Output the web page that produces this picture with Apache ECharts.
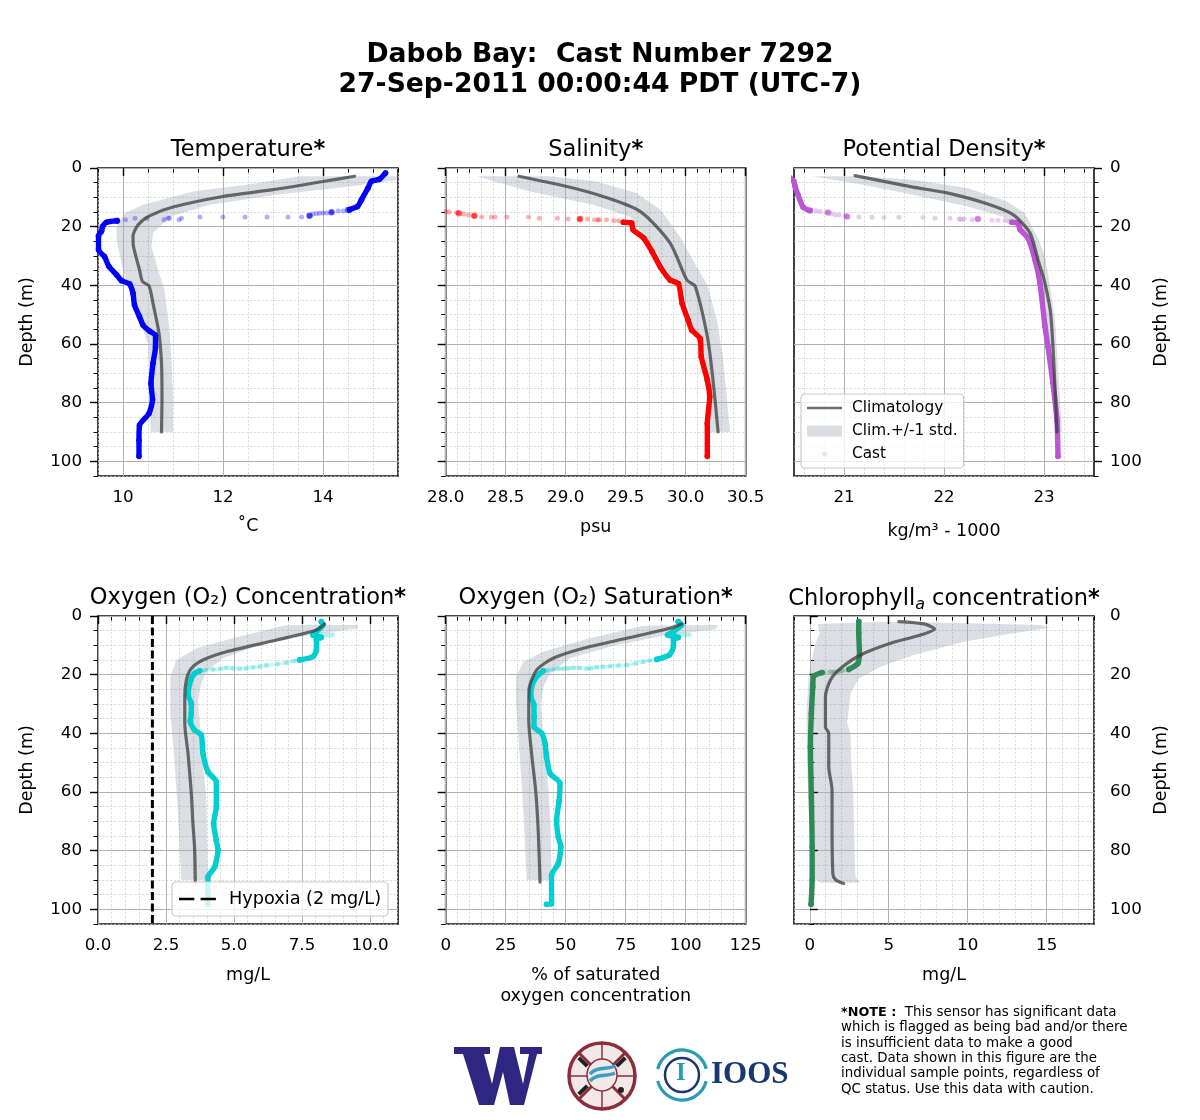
<!DOCTYPE html>
<html><head><meta charset="utf-8">
<style>html,body{margin:0;padding:0;background:#fff}#c{width:1200px;height:1120px}</style>
<script src="https://cdn.jsdelivr.net/npm/echarts@6/dist/echarts.min.js"></script>
</head><body><div id="c"></div>
<script>
// ---- depth axis
const depthMajor=[0,20,40,60,80,100];
const depthMinor=[5,10,15,25,30,35,45,50,55,65,70,75,85,90,95,105];
// ---- x ticks
const tempMajor=[10,12,14], tempMinor=[9.5,10.5,11,11.5,12.5,13,13.5,14.5,15,15.5];
const salMajor=[28,28.5,29,29.5,30,30.5], salMinor=[28.1,28.2,28.3,28.4,28.6,28.7,28.8,28.9,29.1,29.2,29.3,29.4,29.6,29.7,29.8,29.9,30.1,30.2,30.3,30.4];
const densMajor=[21,22,23], densMinor=[20.6,20.8,21.2,21.4,21.6,21.8,22.2,22.4,22.6,22.8,23.2,23.4];
const concMajor=[0,2.5,5,7.5,10], concMinor=[.5,1,1.5,2,3,3.5,4,4.5,5.5,6,6.5,7,8,8.5,9,9.5,10.5,11];
const satMajor=[0,25,50,75,100,125], satMinor=[5,10,15,20,30,35,40,45,55,60,65,70,80,85,90,95,105,110,115,120];
const chlMajor=[0,5,10,15], chlMinor=[-1,1,2,3,4,6,7,8,9,11,12,13,14,16,17,18];
// ---- temperature [value, depth]
const tempClim=[[14.63,2.8],[14,4.6],[13,7.4],[12,9.7],[11,13.3],[10.53,16.3],[10.3,19.4],[10.2,23.3],[10.21,26.8],[10.33,34.7],[10.39,38.7],[10.52,40.2],[10.6,46.1],[10.72,56.4],[10.77,66.6],[10.78,78],[10.77,90]];
const tempBandLow=[[13.53,2.8],[12.47,5.7],[11.4,8],[10.4,12.5],[10.03,15.4],[9.87,20],[9.87,24.5],[9.97,32.5],[10.1,40.4],[10.3,50.7],[10.5,59.8],[10.55,78],[10.55,90]];
const tempBandHigh=[[15.47,2.8],[15.47,4.2],[14.53,6.3],[13.07,9.1],[11.73,12.5],[10.93,16.7],[10.6,22.2],[10.57,26.8],[10.7,34.7],[10.83,41.6],[10.93,55],[10.97,66.6],[11,78],[11,90]];
const tempCastTop=[[15.25,1.7],[15.13,3.8],[14.97,4.5],[14.9,6.8],[14.77,10.8],[14.69,13.1],[14.53,14.2]];
const tempCastFall=[[14.53,14.4],[14.4,14.7],[14.3,14.7],[14.17,15.1],[14.17,15.1],[14.07,15.3],[14,15.3],[13.93,15.4],[13.87,15.5],[13.8,15.7],[13.73,16.3],[13.73,16.3],[13.57,16.7],[13.3,16.7],[12.88,16.7],[12.44,16.7],[12,16.7],[11.54,16.7],[11.17,17.1],[11.12,17.65],[10.93,17.1],[10.9,17.1],[10.82,17.6],[10.48,17.2],[10.24,17.1],[10.05,17.6],[9.88,18]];
const tempCastClumps=[[14.5,14.3],[14.17,15.1],[13.73,16.3],[9.88,18]];
const tempCastDeep=[[9.88,18],[9.67,18.5],[9.59,20],[9.57,21.6],[9.51,23.1],[9.51,27.9],[9.63,30.2],[9.72,33.6],[9.87,36.4],[9.97,38.4],[10.13,39.5],[10.2,42.7],[10.23,46.7],[10.33,50.7],[10.4,53.5],[10.53,55.6],[10.65,57],[10.65,61],[10.6,66.6],[10.56,73.5],[10.59,79],[10.52,83.7],[10.33,87.7],[10.32,92.8],[10.32,98.3]];
// ---- salinity
const salClim=[[28.61,2.8],[29.01,6.3],[29.31,9.7],[29.62,14.8],[29.87,25.6],[30.01,38.2],[30.08,40.4],[30.19,59.8],[30.27,90]];
const salBandLow=[[28.26,2.8],[28.7,8],[29.23,12.5],[29.54,16.7],[29.76,29],[29.87,37],[29.97,40.4],[30.09,57.5],[30.18,78],[30.2,90]];
const salBandHigh=[[28.87,2.8],[29.26,4.6],[29.59,8.5],[29.79,14.2],[29.95,23.3],[30.09,33.6],[30.18,39.9],[30.26,51.8],[30.31,64.4],[30.37,90]];
const salCastFall=[[28,14.8],[28.03,15],[28.09,15.2],[28.11,15.4],[28.15,15.7],[28.19,16],[28.23,16.3],[28.24,16.3],[28.3,16.7],[28.38,16.7],[28.41,16.7],[28.51,16.7],[28.69,16.7],[28.78,17.1],[28.93,17.1],[29.02,17.4],[29.12,17.4],[29.11,17.4],[29.18,17.4],[29.24,17.6],[29.27,17.6],[29.28,17.6],[29.34,17.6],[29.4,17.9],[29.44,18]];
const salCastClumps=[[28.11,15.4],[28.24,16.3],[29.12,17.4]];
const salCastDeep=[[29.48,18.5],[29.55,18.8],[29.56,21],[29.65,23.9],[29.72,28.5],[29.79,33.8],[29.87,38.2],[29.94,39.5],[29.97,46.1],[30.02,51.8],[30.05,55.2],[30.12,58.1],[30.13,64.4],[30.18,72.3],[30.2,78],[30.18,87.1],[30.18,98.3]];
// ---- potential density
const densClim=[[21.11,2.6],[21.69,6.5],[22.03,8.5],[22.43,12.2],[22.69,15.9],[22.86,22.2],[22.94,31.3],[23.01,39.3],[23.07,50.7],[23.13,90]];
const densBandLow=[[20.68,2.8],[21.19,5.7],[21.69,9.1],[22.23,13],[22.6,16.7],[22.79,21.6],[22.91,32.5],[22.98,40.4],[23.03,55],[23.11,90]];
const densBandHigh=[[21.16,2.8],[21.69,4],[22.23,6.8],[22.63,11.4],[22.81,15.4],[22.93,23.3],[23.01,30],[23.06,40.4],[23.11,51.8],[23.18,90]];
const densCastTop=[[20.45,3],[20.5,4.6],[20.51,6.3],[20.54,9.1],[20.59,13.3],[20.66,14.5]];
const densCastFall=[[20.66,14.5],[20.72,14.6],[20.76,14.8],[20.83,15.1],[20.84,15.2],[20.87,15.5],[20.91,15.9],[20.95,16],[21.01,16.3],[21.03,16.5],[21.03,16.6],[21.15,16.7],[21.28,16.8],[21.4,16.8],[21.55,16.8],[21.79,16.8],[21.91,17.1],[22.06,17.1],[22.15,17.4],[22.17,17.5],[22.2,17.4],[22.28,17.65],[22.33,17.3],[22.34,17.5],[22.48,17.8],[22.54,17.8],[22.61,17.9],[22.65,18.2],[22.68,18.5]];
const densCastClumps=[[20.66,14.5],[20.84,15.2],[21.03,16.5],[22.34,17.4]];
const densCastDeep=[[22.68,18.5],[22.74,18.8],[22.76,21],[22.84,23.9],[22.91,31.3],[22.96,39.3],[23.01,54],[23.04,60.9],[23.09,73.5],[23.13,86],[23.14,98.3]];
// ---- oxygen concentration
const hypoxiaLine=[[2,0],[2,105]];
const concClim=[[8.33,2.7],[8.03,4.8],[6.56,8.2],[4.72,12.2],[3.86,15],[3.43,17.9],[3.25,21.8],[3.19,27.5],[3.19,36.6],[3.31,46.9],[3.43,60.5],[3.49,70.8],[3.55,78.7],[3.58,90.7]];
const concBandLow=[[6.92,3.1],[5.2,7],[3.62,11],[2.88,15],[2.66,20.7],[2.66,33.2],[2.82,50.3],[2.94,67.3],[3.06,90]];
const concBandHigh=[[9.56,3.1],[9.56,4.2],[7.78,6.5],[5.94,9.9],[4.6,14.4],[3.98,19],[3.8,23],[3.68,28.7],[3.8,44.6],[3.98,61.7],[4.04,90]];
const concCastTop=[[8.21,1.9],[8.27,3.1],[8.03,5.3],[7.9,6.5],[8.21,7.3],[8.03,8.2],[8.03,11.6],[7.9,13.9],[7.41,15]];
const concCastSpur=[[7.9,6.5],[8.15,6.3],[8.4,6.5],[8.7,6.5]];
const concCastFall=[[7.41,15],[7.2,15.3],[6.92,15.9],[6.6,16.4],[6.19,16.8],[5.95,17.2],[5.7,17.5],[5.45,17.8],[5.21,17.9],[4.95,17.8],[4.72,17.6],[4.5,18],[4.23,18.2],[3.95,18.4],[3.74,18.7]];
const concCastDeep=[[3.74,18.7],[3.55,19.6],[3.41,21.8],[3.31,27],[3.43,29.8],[3.43,33.2],[3.39,36],[3.55,38.9],[3.8,40.6],[3.86,46.9],[4.04,53.1],[4.35,56.5],[4.35,65],[4.25,70.8],[4.35,76.5],[4.41,79.9],[4.29,85.6],[4.04,89],[4.04,95.8],[4.04,98.3]];
// ---- oxygen saturation
const satClim=[[98.3,2.7],[93.4,4.2],[75.4,7.6],[57.4,11],[44.8,14.4],[37.9,18.4],[34.7,25.3],[34.6,35.5],[35.8,46.9],[37.6,60.5],[38.6,74.2],[39.3,90.7]];
const satBandLow=[[82.3,3.3],[60,7.6],[40.7,12.2],[32.4,15.6],[29.3,20.7],[29.3,29.8],[30.7,45.7],[32.4,67.3],[33.7,90]];
const satBandHigh=[[113.6,3.1],[112.2,4.6],[92.1,6.5],[71.2,9.9],[51.8,14.4],[43.5,19.6],[40.7,24.1],[39.6,29.8],[40.7,42.3],[42.8,58.2],[43.7,71.9],[44.1,90]];
const satCastTop=[[96.9,1.9],[98.3,3.1],[94.9,5.3],[92.4,6.5],[96.9,7.3],[94.9,8.2],[94.9,10.5],[93.2,13.3],[87.9,14.8]];
const satCastSpur=[[92.4,6.5],[96.1,6.5],[99.6,6.5],[102.4,6.5]];
const satCastFall=[[87.9,14.8],[85,15.2],[82.3,15.6],[79,16.2],[75.4,16.7],[72,16.9],[68.5,17.1],[65.5,17.3],[62.9,17.5],[60.5,17.8],[58.8,17.9],[55.8,17.6],[53.2,17.6],[51,17.8],[49,17.9],[47,18],[44.9,18.2],[42.5,18.5],[40.7,18.7]];
const satCastDeep=[[40.7,18.7],[37.9,20.7],[35.8,24.1],[35.5,27.5],[36.8,30.4],[36.8,34.4],[36.8,37.8],[40,40],[41.4,43.5],[42,48],[43.5,53.7],[47.6,57],[47.3,62.8],[46.2,69.6],[46.9,75.3],[48,78.7],[46.9,84.4],[44.1,88.4],[44.1,98.1],[42,98.3]];
// ---- chlorophyll
const chlClim=[[5.64,1.9],[7.23,2.7],[7.9,4.4],[7.01,6.5],[5.11,9.3],[3.21,13.3],[1.94,17.9],[1.31,21.8],[.99,27.5],[.99,37.8],[1.2,40],[1.2,51.4],[1.41,59.4],[1.41,69.6],[1.46,87.8],[1.63,89.9],[2.15,91.2]];
const chlBandLow=[[.51,2.7],[.63,5.9],[.36,9.3],[-.06,19.6],[-.21,33.2],[-.17,50.3],[-.06,67.3],[.25,89.5],[.68,90.9]];
const chlBandHigh=[[4.48,2],[8.7,2.3],[14.6,3.1],[15.2,4],[12.9,5.9],[9.76,8.8],[6.59,13.3],[4.48,17.3],[3.1,21.3],[2.58,26.4],[2.37,36.6],[2.58,40],[2.62,50.3],[2.75,59.4],[2.83,78.7],[2.89,89],[3.17,90.9]];
const chlCastTop=[[3.1,1.9],[3.1,5.9],[3.15,13.3],[3.04,16.2],[2.47,18.2]];
const chlCastFall=[[2.47,18.2],[2.05,18.7],[1.8,18.9],[1.55,19],[1.31,19],[.78,19.3]];
const chlCastDeep=[[.78,19.3],[.25,20.5],[.19,24.1],[.1,33.2],[.04,44.6],[.1,61.7],[.15,78.7],[.15,90],[.08,98.3]];
// ---- text
const mainTitle='Dabob Bay:  Cast Number 7292\n27-Sep-2011 00:00:44 PDT (UTC-7)';
const noteLines=['{b|*NOTE :}  This sensor has significant data','which is flagged as being bad and/or there','is insufficient data to make a good','cast. Data shown in this figure are the','individual sample points, regardless of','QC status. Use this data with caution.'];

const F='"DejaVu Sans"';
const TICK=16.7, NAME=17.5, TITLE=22.5;
const BAND='rgba(112,128,144,0.25)', CLIM='rgba(60,60,60,0.75)';
const titleRich={s:{fontFamily:F,fontSize:TITLE,fontWeight:'normal',color:'#000'},b:{fontFamily:F,fontSize:TITLE,fontWeight:'bold',color:'#000'},sub:{fontFamily:F,fontSize:16,fontWeight:'normal',fontStyle:'italic',color:'#000',verticalAlign:'bottom',lineHeight:26}};

const panels=[
 {title:'{s|Temperature}{b|*}',name:'˚C',gap:40,min:9.5,max:15.5,major:tempMajor,minor:tempMinor,fmt:v=>String(v),color:'#0000ff',clim:tempClim,lo:tempBandLow,hi:tempBandHigh,solid:[tempCastTop,tempCastDeep],fall:tempCastFall,clumps:tempCastClumps,x:98,y:168,side:'left',ylab:true},
 {title:'{s|Salinity}{b|*}',name:'psu',gap:41,min:28,max:30.5,major:salMajor,minor:salMinor,fmt:v=>v.toFixed(1),color:'#ff0000',clim:salClim,lo:salBandLow,hi:salBandHigh,solid:[salCastDeep],fall:salCastFall,clumps:salCastClumps,x:445.7,y:168,side:'left',ylab:false},
 {title:'{s|Potential Density}{b|*}',name:'kg/m³ - 1000',gap:45,min:20.5,max:23.5,major:densMajor,minor:densMinor,fmt:v=>String(v),color:'#ba55d3',clim:densClim,lo:densBandLow,hi:densBandHigh,solid:[densCastTop,densCastDeep],fall:densCastFall,clumps:densCastClumps,x:794,y:168,side:'right',ylab:true},
 {title:'{s|Oxygen (O₂) Concentration}{b|*}',name:'mg/L',gap:41,min:0,max:11.03,major:concMajor,minor:concMinor,fmt:v=>v.toFixed(1),color:'#00ced1',clim:concClim,lo:concBandLow,hi:concBandHigh,solid:[concCastTop,concCastDeep],fall:concCastFall,spur:concCastSpur,fallLine:true,hyp:true,x:98,y:616,side:'left',ylab:true},
 {title:'{s|Oxygen (O₂) Saturation}{b|*}',name:'% of saturated\noxygen concentration',gap:41,min:0,max:125,major:satMajor,minor:satMinor,fmt:v=>String(v),color:'#00ced1',clim:satClim,lo:satBandLow,hi:satBandHigh,solid:[satCastTop,satCastDeep],fall:satCastFall,spur:satCastSpur,fallLine:true,x:445.7,y:616,side:'left',ylab:false},
 {title:'{s|Chlorophyll}{sub|a}{s| concentration}{b|*}',name:'mg/L',gap:41,min:-1,max:18,major:chlMajor,minor:chlMinor,fmt:v=>String(v),color:'#2e8b57',clim:chlClim,lo:chlBandLow,hi:chlBandHigh,solid:[chlCastTop,chlCastDeep],fall:chlCastFall,fallLine:true,x:794,y:616,side:'right',ylab:true}
];
const W=300,H=308;
const grid=[],xAxis=[],yAxis=[],series=[];
const title=[{text:mainTitle,left:600,top:40,padding:0,textAlign:'center',textStyle:{fontFamily:F,fontSize:26.6,fontWeight:'bold',color:'#000',lineHeight:30}}];
function bandRender(lo,hi){
  return (params,api)=>{
    if(params.dataIndex!==0) return null;
    const pts=lo.concat(hi.slice().reverse()).map(p=>api.coord(p));
    return {type:'polygon',shape:{points:pts},style:{fill:BAND}};
  };
}
panels.forEach((p,i)=>{
  grid.push({left:p.x,top:p.y,width:W,height:H,show:true,borderColor:'#111',borderWidth:1.6,backgroundColor:'transparent',containLabel:false});
  const ma=i*2;
  const common={type:'value',gridIndex:i,min:p.min,max:p.max,position:'bottom',axisLine:{show:false}};
  xAxis.push({...common,z:3,name:p.name,nameLocation:'middle',nameGap:p.gap,nameTextStyle:{fontFamily:F,fontSize:NAME,color:'#000',lineHeight:21},
    axisTick:{show:true,length:8,lineStyle:{color:'#000',width:1.4},customValues:p.major},
    axisLabel:{show:true,margin:13,fontFamily:F,fontSize:TICK,color:'#000',customValues:p.major,formatter:p.fmt,showMinLabel:true,showMaxLabel:true,hideOverlap:false},
    splitLine:{show:true,lineStyle:{color:'#b0b0b0',width:1,type:'solid'}}});
  xAxis.push({...common,z:2,
    axisTick:{show:true,length:4.5,lineStyle:{color:'#000',width:1},customValues:p.minor},
    axisLabel:{show:false},
    splitLine:{show:true,lineStyle:{color:'#cfcfcf',width:.7,type:[2.5,1.5]}}});
  const yc={type:'value',gridIndex:i,min:0,max:105,inverse:true,position:p.side,axisLine:{show:false}};
  yAxis.push({...yc,z:3,name:p.ylab?'Depth (m)':'',nameLocation:'middle',nameGap:p.side==='left'?62:58,nameRotate:90,nameTextStyle:{fontFamily:F,fontSize:NAME,color:'#000'},
    axisTick:{show:true,length:8,lineStyle:{color:'#000',width:1.4},customValues:depthMajor},
    axisLabel:{show:p.ylab,margin:16,padding:[3,0,0,0],fontFamily:F,fontSize:TICK,color:'#000',customValues:depthMajor,showMinLabel:true,hideOverlap:false},
    splitLine:{show:true,lineStyle:{color:'#b0b0b0',width:1,type:'solid'}}});
  yAxis.push({...yc,z:2,
    axisTick:{show:true,length:4.5,lineStyle:{color:'#000',width:1},customValues:depthMinor},
    axisLabel:{show:false},
    splitLine:{show:true,lineStyle:{color:'#cfcfcf',width:.7,type:[2.5,1.5]}}});
  title.push({text:p.title,left:p.x+150,top:p.y-29.5,padding:0,textAlign:'center',textStyle:{rich:titleRich,fontFamily:F,fontSize:TITLE}});
  const axes={xAxisIndex:ma,yAxisIndex:ma};
  series.push({type:'custom',name:'Clim.+/-1 std.',...axes,data:p.lo.concat(p.hi),renderItem:bandRender(p.lo,p.hi),itemStyle:{color:BAND},silent:true,z:2,animation:false});
  if(p.hyp) series.push({type:'line',name:'Hypoxia (2 mg/L)',...axes,data:hypoxiaLine,showSymbol:false,lineStyle:{color:'#000',width:3,type:[8,3.5]},z:3,silent:true,animation:false});
  series.push({type:'scatter',name:'Cast',...axes,data:p.fall,symbolSize:5,itemStyle:{color:p.color,opacity:.3},z:4,silent:true,animation:false});
  if(p.clumps) series.push({type:'scatter',name:'Cast',...axes,data:p.clumps,symbolSize:6.5,itemStyle:{color:p.color,opacity:.55},z:4,silent:true,animation:false});
  if(p.fallLine) series.push({type:'line',name:'Cast',...axes,data:p.fall,showSymbol:false,lineStyle:{color:p.color,width:3.5,opacity:.18},z:4,silent:true,animation:false});
  if(p.spur) series.push({type:'line',name:'Cast',...axes,data:p.spur,showSymbol:false,lineStyle:{color:p.color,width:4.5,opacity:.3},z:4,silent:true,animation:false});
  p.solid.forEach(seg=>{
    series.push({type:'line',name:'Cast',...axes,data:seg,smooth:.2,showSymbol:true,symbol:'circle',symbolSize:5.6,itemStyle:{color:p.color},lineStyle:{color:p.color,width:5.4,cap:'round',join:'round'},z:5,silent:true,animation:false});
  });
  series.push({type:'line',name:'Climatology',...axes,data:p.clim,showSymbol:false,smooth:.25,lineStyle:{color:CLIM,width:3.2,cap:'round'},itemStyle:{color:CLIM},z:6,silent:true,animation:false});
});
const legendBox={z:10,selectedMode:false,symbolKeepAspect:false,orient:'vertical',backgroundColor:'rgba(255,255,255,0.8)',borderColor:'#ccc',borderWidth:1.2,borderRadius:4,itemGap:8,itemWidth:40,itemHeight:15,textStyle:{fontFamily:F,color:'#000'}};
const BB='M0 0L100 0L0 0ZM0 100L100 100L0 100Z';
const lineIcon='path://'+BB+'M0 41H87.5V59H0Z';
const bandIcon='path://'+BB+'M0 14H87.5V86H0Z';
const dotIcon='path://'+BB+'M37.5 50A6.25 16.7 0 1 1 50 50A6.25 16.7 0 1 1 37.5 50Z';
const dashIcon='path://'+BB+'M0 41H34V59H0ZM48 41H82V59H48Z';
const legend=[
 {...legendBox,left:801,top:394,padding:[6.5,6,6.5,6],textStyle:{...legendBox.textStyle,fontSize:15.3},
  data:[{name:'Climatology',icon:lineIcon,itemStyle:{color:'#6e6e6e'}},{name:'Clim.+/-1 std.',icon:bandIcon,itemStyle:{color:'#dadee3'}},{name:'Cast',icon:dotIcon,itemStyle:{color:'rgba(186,85,211,.6)'}}]},
 {...legendBox,left:172,top:882,padding:[8,7,8,7],itemWidth:45,textStyle:{...legendBox.textStyle,fontSize:17.7},
  data:[{name:'Hypoxia (2 mg/L)',icon:dashIcon,itemStyle:{color:'#000'}}]}
];
// logos and note
const navy='#2e2680', maroon='#8c2d3c', teal='#2a9cb0', ioos='#17396f';
const wOutline=[[454,1047],[490,1047],[490,1054],[484,1054],[492,1084],[500,1047],[514,1047],[523,1084],[529,1054],[520,1054],[520,1047],[542,1047],[542,1054],[537,1054],[524,1105],[510,1105],[503,1072],[494,1105],[479,1105],[463,1054],[454,1054]];
const graphic=[
 {type:'text',left:841,top:1005,style:{text:noteLines.join('\n'),fontFamily:F,fontSize:13.4,lineHeight:15.3,fill:'#000',rich:{b:{fontFamily:F,fontSize:12.8,fontWeight:'bold',fill:'#000'}}}},
 {type:'polygon',shape:{points:wOutline},style:{fill:navy}},
 {type:'ellipse',shape:{cx:602,cy:1076,rx:33,ry:33},style:{fill:'#f3e8e8',stroke:maroon,lineWidth:3.5}},
 {type:'line',shape:{x1:578,y1:1052,x2:626,y2:1100},style:{stroke:maroon,lineWidth:3}},
 {type:'line',shape:{x1:626,y1:1052,x2:578,y2:1100},style:{stroke:maroon,lineWidth:3}},
 {type:'line',shape:{x1:570,y1:1076,x2:634,y2:1076},style:{stroke:maroon,lineWidth:1.5}},
 {type:'line',shape:{x1:602,y1:1044,x2:602,y2:1108},style:{stroke:maroon,lineWidth:1.5}},
 {type:'ellipse',shape:{cx:602,cy:1075,rx:15,ry:16},style:{fill:'#f3e8e8',stroke:maroon,lineWidth:1.5}},
 {type:'bezierCurve',shape:{x1:590,y1:1074,cpx1:597,cpy1:1066,cpx2:607,cpy2:1070,x2:615,y2:1066},style:{stroke:'#3a9fc0',lineWidth:3.5,fill:'none'}},
 {type:'bezierCurve',shape:{x1:590,y1:1081,cpx1:597,cpy1:1073,cpx2:607,cpy2:1077,x2:615,y2:1073},style:{stroke:'#3a9fc0',lineWidth:3.5,fill:'none'}},
 {type:'rect',shape:{x:581,y:1056,width:4,height:12},rotation:.8,originX:583,originY:1062,style:{fill:'#222'}},
 {type:'rect',shape:{x:619,y:1056,width:4,height:12},rotation:-.8,originX:621,originY:1062,style:{fill:'#222'}},
 {type:'rect',shape:{x:581,y:1084,width:4,height:12},rotation:-.8,originX:583,originY:1090,style:{fill:'#222'}},
 {type:'circle',shape:{cx:621,cy:1090,r:3},style:{fill:'#222'}},
 {type:'arc',shape:{cx:682,cy:1075,r:25,startAngle:-2.9,endAngle:-.25},style:{stroke:teal,lineWidth:3.2,fill:'none'}},
 {type:'arc',shape:{cx:682,cy:1075,r:25,startAngle:.25,endAngle:2.9},style:{stroke:teal,lineWidth:3.2,fill:'none'}},
 {type:'circle',shape:{cx:682,cy:1075,r:17},style:{fill:'none',stroke:ioos,lineWidth:2.5}},
 {type:'text',left:676,top:1061,style:{text:'I',fontFamily:'"Liberation Serif"',fontSize:25,fontWeight:'bold',fill:teal}},
 {type:'text',left:711,top:1059,style:{text:'IOOS',fontFamily:'"Liberation Serif"',fontSize:31,fontWeight:'bold',fill:ioos}}
];
const chart=echarts.init(document.getElementById('c'),null,{renderer:'canvas'});
chart.setOption({animation:false,backgroundColor:'#fff',title,grid,xAxis,yAxis,series,legend,graphic});
</script></body></html>
